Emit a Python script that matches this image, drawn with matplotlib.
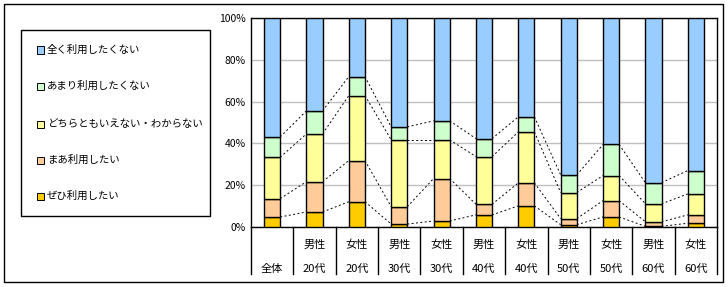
import numpy as np
import matplotlib
matplotlib.use("Agg")
from matplotlib import pyplot as plt
from matplotlib.patches import Rectangle

plt.rcParams['font.family'] = ['Noto Sans CJK JP', 'DejaVu Sans']

# category labels (two-level axis)
cat_top = ["", "男性", "女性", "男性", "女性", "男性", "女性", "男性", "女性", "男性", "女性"]
cat_bottom = ["全体", "20代", "20代", "30代", "30代", "40代", "40代", "50代", "50代", "60代", "60代"]

# series, bottom to top (percent)
series_names = ["ぜひ利用したい", "まあ利用したい", "どちらともいえない・わからない",
                "あまり利用したくない", "全く利用したくない"]
zehi = [4.8, 7.2, 12.1, 1.4, 2.9, 5.8, 10.1, 1.1, 4.8, 0.3, 1.8]
maa = [8.8, 14.5, 19.7, 8.3, 20.3, 5.1, 11.0, 2.9, 7.8, 2.2, 4.0]
dochira = [19.8, 22.9, 31.1, 32.0, 18.5, 22.8, 24.4, 12.5, 12.0, 8.6, 10.0]
amari = [9.7, 11.0, 9.1, 6.2, 9.1, 8.6, 7.2, 8.4, 14.9, 10.1, 11.2]
mattaku = [56.9, 44.4, 28.0, 52.1, 49.2, 57.7, 47.3, 75.1, 60.5, 78.9, 73.0]
colors = ["#FFCC00", "#FFCC99", "#FFFF99", "#CCFFCC", "#99CCFF"]

data = [zehi, maa, dochira, amari, mattaku]
n = len(cat_bottom)
x = np.arange(n)
width = 0.38

fig = plt.figure(figsize=(7.28, 2.87), dpi=100)
ax = fig.add_axes([251 / 728, 1 - 227 / 287, 466 / 728, 209 / 287])

bottom = np.zeros(n)
cums = []
for vals, col in zip(data, colors):
    vals = np.array(vals)
    ax.bar(x, vals, width, bottom=bottom, color=col, edgecolor="black", linewidth=1.0, zorder=3)
    bottom = bottom + vals
    cums.append(bottom.copy())

# series lines between bars
for cum in cums[:-1]:
    for i in range(n - 1):
        ax.plot([x[i] + width / 2, x[i + 1] - width / 2], [cum[i], cum[i + 1]],
                color="black", linestyle=(0, (2, 2.5)), linewidth=0.7, zorder=2)

ax.set_xlim(-0.5, n - 0.5)
ax.set_ylim(0, 100)
ax.set_yticks(range(0, 101, 20))
ax.set_yticklabels([f"{v}%" for v in range(0, 101, 20)], fontsize=7.5)
ax.tick_params(axis="y", length=0, pad=4)
ax.set_xticks([])
ax.grid(axis="y", color="#C0C0C0", linewidth=1, zorder=0)
for s in ax.spines.values():
    s.set_linewidth(1)
    s.set_color("black")

# two-level category labels and separators
for i in range(n):
    ax.text(x[i], -0.086, cat_top[i], transform=ax.get_xaxis_transform(),
            ha="center", va="center", fontsize=8)
    ax.text(x[i], -0.201, cat_bottom[i], transform=ax.get_xaxis_transform(),
            ha="center", va="center", fontsize=8)
for b in np.arange(n + 1) - 0.5:
    ax.plot([b, b], [0, -0.225], color="black", linewidth=1,
            transform=ax.get_xaxis_transform(), clip_on=False)

# legend box
fig.patches.append(Rectangle((21 / 728, 1 - 216 / 287), 189 / 728, 186 / 287,
                             transform=fig.transFigure, facecolor="white",
                             edgecolor="black", linewidth=1))
leg_y = [50, 86, 124, 160, 196]
for k, yy in enumerate(leg_y):
    idx = len(series_names) - 1 - k
    fig.patches.append(Rectangle((37 / 728, 1 - (yy + 3.5) / 287), 7 / 728, 7 / 287,
                                 transform=fig.transFigure, facecolor=colors[idx],
                                 edgecolor="black", linewidth=0.7))
    fig.text(47 / 728, 1 - yy / 287, series_names[idx], fontsize=7.5, va="center", ha="left")

# outer frame
fig.patches.append(Rectangle((4 / 728, 5 / 287), 719 / 728, 278 / 287,
                             transform=fig.transFigure, fill=False,
                             edgecolor="black", linewidth=1))

fig.savefig("out.png", dpi=100)
